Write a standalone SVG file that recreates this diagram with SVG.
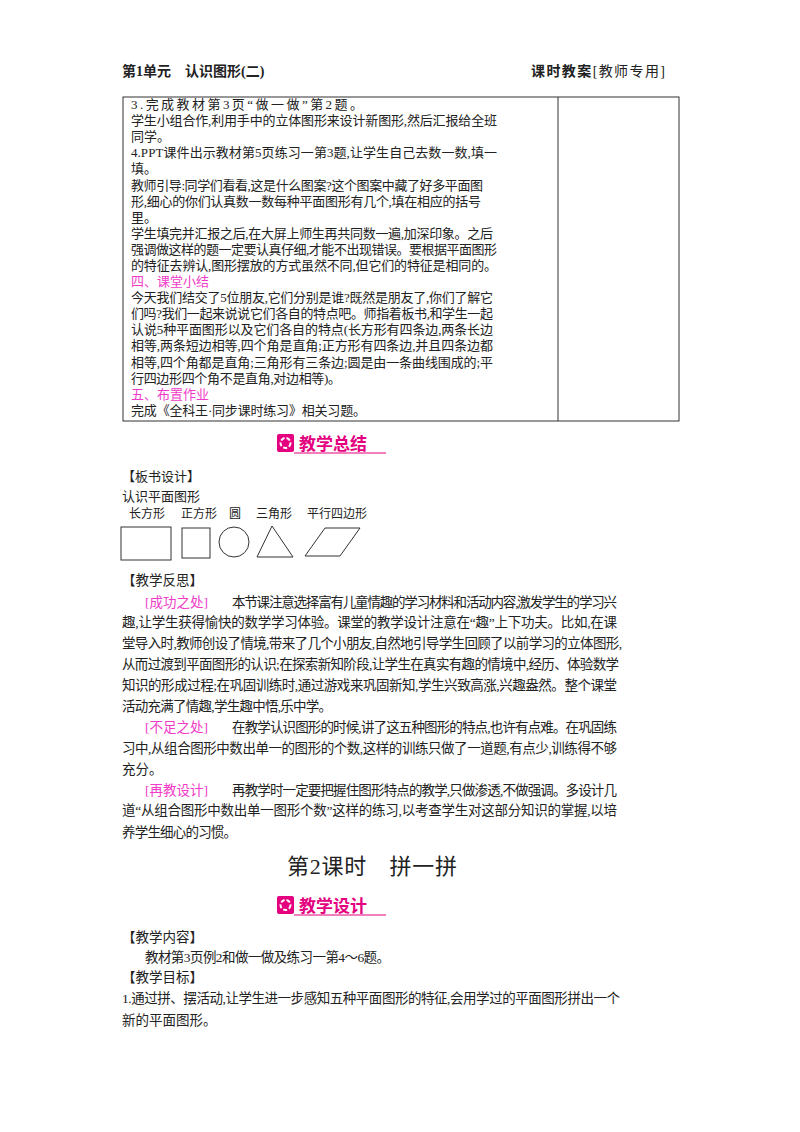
<svg xmlns="http://www.w3.org/2000/svg" width="800" height="1132" viewBox="0 0 800 1132">
<style>
text{font-family:"Liberation Serif","Noto Sans CJK SC",serif;fill:#222}
.t{font-size:13px}
.p{font-size:13.5px}
.m{fill:#f03cc8}
.h{font-size:14px;font-weight:bold}
.bn{font-size:17px;font-weight:bold;fill:#e4007f;font-family:"Noto Sans CJK SC",sans-serif}
.sh{fill:none;stroke:#333;stroke-width:1}
</style>
<rect width="800" height="1132" fill="#fff"/>
<g id="header">
<text class="h" x="122" y="76">第1单元　认识图形(二)</text>
<text x="531" y="76" style="font-size:14px;font-weight:bold" textLength="134">课时教案<tspan font-weight="normal">[教师专用]</tspan></text>
</g>
<g id="table">
<rect x="123" y="97" width="556" height="324" class="sh" stroke-width="1.5"/>
<line x1="558" y1="97" x2="558" y2="421" class="sh"/>
<g class="t">
<text x="131" y="109" textLength="232">3.完成教材第3页“做一做”第2题。</text>
<text x="131" y="125" textLength="366">学生小组合作,利用手中的立体图形来设计新图形,然后汇报给全班</text>
<text x="131" y="141">同学。</text>
<text x="131" y="157" textLength="366">4.PPT课件出示教材第5页练习一第3题,让学生自己去数一数,填一</text>
<text x="131" y="173">填。</text>
<text x="131" y="190" textLength="352">教师引导:同学们看看,这是什么图案?这个图案中藏了好多平面图</text>
<text x="131" y="206" textLength="350">形,细心的你们认真数一数每种平面图形有几个,填在相应的括号</text>
<text x="131" y="222">里。</text>
<text x="131" y="238" textLength="362">学生填完并汇报之后,在大屏上师生再共同数一遍,加深印象。之后</text>
<text x="131" y="254" textLength="366">强调做这样的题一定要认真仔细,才能不出现错误。要根据平面图形</text>
<text x="131" y="270" textLength="366">的特征去辨认,图形摆放的方式虽然不同,但它们的特征是相同的。</text>
<text x="131" y="286" class="m">四、课堂小结</text>
<text x="131" y="302" textLength="362">今天我们结交了5位朋友,它们分别是谁?既然是朋友了,你们了解它</text>
<text x="131" y="318" textLength="362">们吗?我们一起来说说它们各自的特点吧。师指着板书,和学生一起</text>
<text x="131" y="334" textLength="362">认说5种平面图形以及它们各自的特点(长方形有四条边,两条长边</text>
<text x="131" y="350" textLength="362">相等,两条短边相等,四个角是直角;正方形有四条边,并且四条边都</text>
<text x="131" y="367" textLength="362">相等,四个角都是直角;三角形有三条边;圆是由一条曲线围成的;平</text>
<text x="131" y="383" textLength="210">行四边形四个角不是直角,对边相等)。</text>
<text x="131" y="399" class="m">五、布置作业</text>
<text x="131" y="415" textLength="235">完成《全科王·同步课时练习》相关习题。</text>
</g>
</g>
<g id="banner1">
<rect x="277" y="434" width="17" height="18" rx="2" fill="#e4007f"/>
<circle cx="285.5" cy="443" r="5" fill="none" stroke="#fff" stroke-width="2" stroke-dasharray="4 2"/>
<text class="bn" x="299" y="450">教学总结</text>
<line x1="294" y1="453" x2="386" y2="453" stroke="#e4007f" stroke-width="1"/>
</g>
<g id="board">
<text x="122" y="481" style="font-size:13px">【板书设计】</text>
<text x="122" y="501" style="font-size:13px">认识平面图形</text>
<g style="font-size:12px">
<text x="129" y="518">长方形</text>
<text x="181" y="518">正方形</text>
<text x="229" y="518">圆</text>
<text x="256" y="518">三角形</text>
<text x="307" y="518">平行四边形</text>
</g>
<rect x="121" y="527" width="50" height="33" class="sh"/>
<rect x="182" y="528" width="28" height="30" class="sh"/>
<circle cx="234" cy="542" r="15" class="sh"/>
<polygon points="272,526 257,557 293,557" class="sh"/>
<polygon points="305,556 325,528 360,528 340,556" class="sh"/>
</g>
<g id="reflection" class="p">
<text x="122" y="585">【教学反思】</text>
<text x="145" y="607"><tspan class="m">[成功之处]</tspan></text>
<text x="232" y="607" textLength="385">本节课注意选择富有儿童情趣的学习材料和活动内容,激发学生的学习兴</text>
<text x="122" y="627" textLength="495">趣,让学生获得愉快的数学学习体验。课堂的教学设计注意在“趣”上下功夫。比如,在课</text>
<text x="122" y="648" textLength="500">堂导入时,教师创设了情境,带来了几个小朋友,自然地引导学生回顾了以前学习的立体图形,</text>
<text x="122" y="669" textLength="497">从而过渡到平面图形的认识;在探索新知阶段,让学生在真实有趣的情境中,经历、体验数学</text>
<text x="122" y="690" textLength="495">知识的形成过程;在巩固训练时,通过游戏来巩固新知,学生兴致高涨,兴趣盎然。整个课堂</text>
<text x="122" y="711" textLength="210">活动充满了情趣,学生趣中悟,乐中学。</text>
<text x="145" y="732"><tspan class="m">[不足之处]</tspan></text>
<text x="232" y="732" textLength="385">在教学认识图形的时候,讲了这五种图形的特点,也许有点难。在巩固练</text>
<text x="122" y="753" textLength="495">习中,从组合图形中数出单一的图形的个数,这样的训练只做了一道题,有点少,训练得不够</text>
<text x="122" y="774">充分。</text>
<text x="145" y="795"><tspan class="m">[再教设计]</tspan></text>
<text x="232" y="795" textLength="385">再教学时一定要把握住图形特点的教学,只做渗透,不做强调。多设计几</text>
<text x="122" y="815" textLength="495">道“从组合图形中数出单一图形个数”这样的练习,以考查学生对这部分知识的掌握,以培</text>
<text x="122" y="837" textLength="115">养学生细心的习惯。</text>
</g>
<g id="title2">
<text x="287" y="874" style="font-size:22px" textLength="170">第2课时　拼一拼</text>
</g>
<g id="banner2">
<rect x="277" y="896" width="17" height="18" rx="2" fill="#e4007f"/>
<circle cx="285.5" cy="905" r="5" fill="none" stroke="#fff" stroke-width="2" stroke-dasharray="4 2"/>
<text class="bn" x="299" y="912">教学设计</text>
<line x1="294" y1="915" x2="386" y2="915" stroke="#e4007f" stroke-width="1"/>
</g>
<g id="content" class="p">
<text x="122" y="942">【教学内容】</text>
<text x="145" y="962" textLength="245">教材第3页例2和做一做及练习一第4～6题。</text>
<text x="122" y="982">【教学目标】</text>
<text x="122" y="1003" textLength="498">1.通过拼、摆活动,让学生进一步感知五种平面图形的特征,会用学过的平面图形拼出一个</text>
<text x="122" y="1025">新的平面图形。</text>
</g>
</svg>
